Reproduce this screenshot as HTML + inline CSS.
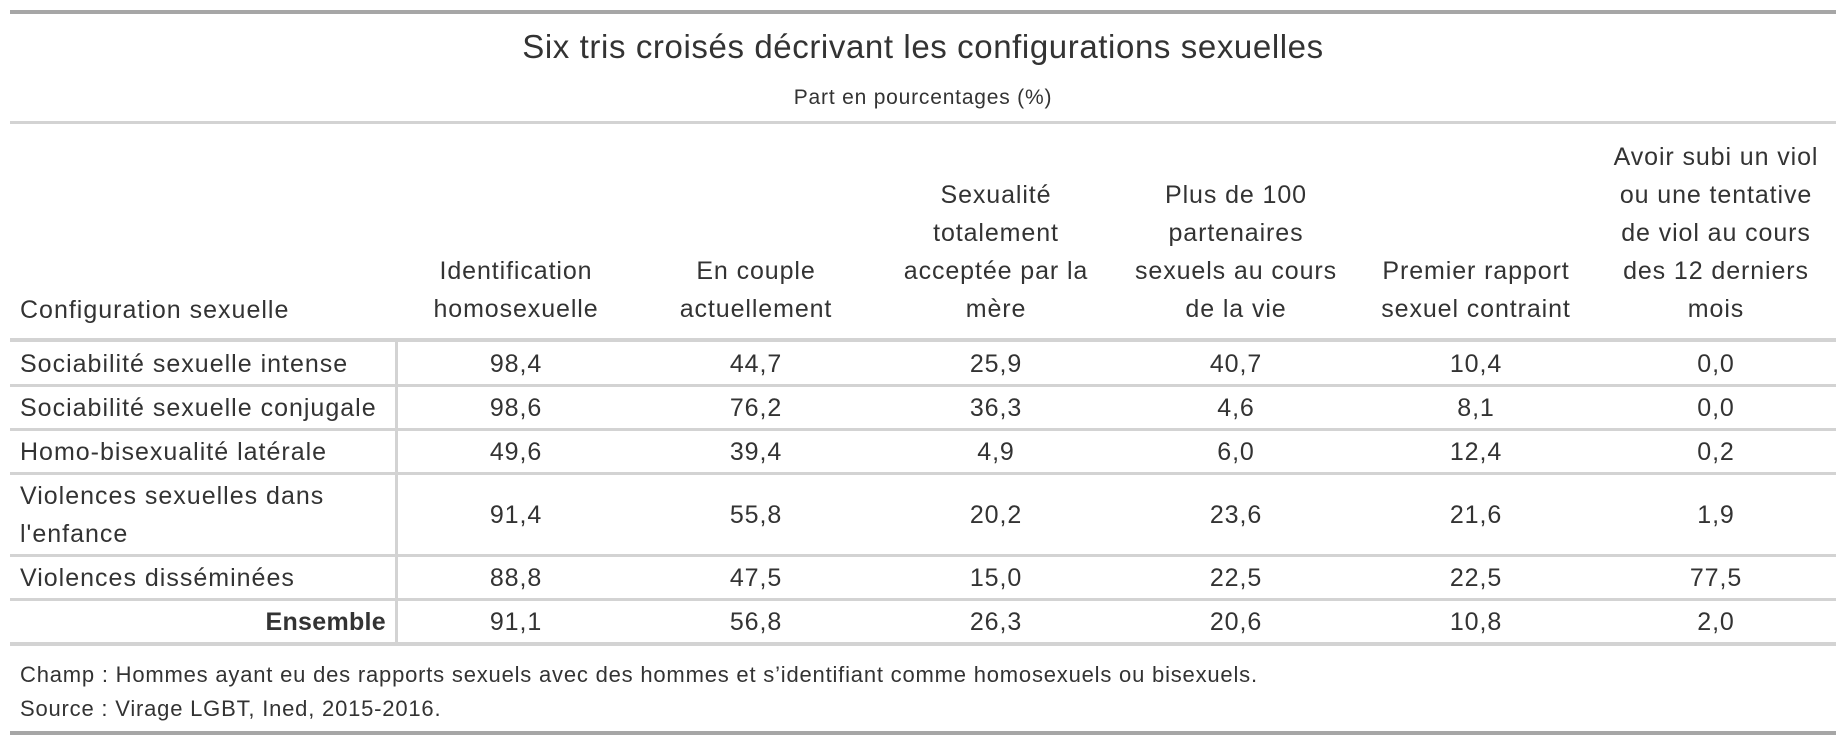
<!DOCTYPE html>
<html><head><meta charset="utf-8">
<style>
body{margin:0;width:1846px;height:742px;background:#fff;font-family:"Liberation Sans",sans-serif;color:#333;position:relative;overflow:hidden}
.ab{position:absolute}
.hl{position:absolute;left:10px;width:1826px;background:#d3d3d3}
.c{position:absolute;text-align:center;width:240px;font-size:25px;line-height:38px;letter-spacing:0.9px}
.r{position:absolute;font-size:25px;line-height:38px;letter-spacing:1px;white-space:nowrap}
</style></head><body>
<div class="hl" style="top:10px;height:4px;background:#a6a6a6"></div>
<div class="ab" style="left:0;width:1846px;top:28px;text-align:center;font-size:33px;line-height:38px;letter-spacing:0.6px">Six tris croisés décrivant les configurations sexuelles</div>
<div class="ab" style="left:0;width:1846px;top:85px;text-align:center;font-size:21px;line-height:26px;letter-spacing:0.8px">Part en pourcentages (%)</div>
<div class="hl" style="top:121px;height:3px"></div>
<div id="hdr"></div>
<div class="hl" style="top:338px;height:4px"></div>
<div id="body"></div>
<div class="ab" style="left:395px;top:342px;width:3px;height:301px;background:#d3d3d3"></div>
<div class="hl" style="top:642px;height:4px"></div>
<div class="ab" style="left:20px;top:662px;font-size:22px;line-height:26px;letter-spacing:0.8px;white-space:nowrap">Champ : Hommes ayant eu des rapports sexuels avec des hommes et s’identifiant comme homosexuels ou bisexuels.</div>
<div class="ab" style="left:20px;top:696px;font-size:22px;line-height:26px;letter-spacing:0.8px">Source : Virage LGBT, Ined, 2015-2016.</div>
<div class="hl" style="top:731px;height:4px;background:#a6a6a6"></div>
<script>
const columns=[["Identification","homosexuelle"],["En couple","actuellement"],["Sexualité","totalement","acceptée par la","mère"],["Plus de 100","partenaires","sexuels au cours","de la vie"],["Premier rapport","sexuel contraint"],["Avoir subi un viol","ou une tentative","de viol au cours","des 12 derniers","mois"]];
const rowLabels=[["Sociabilité sexuelle intense"],["Sociabilité sexuelle conjugale"],["Homo-bisexualité latérale"],["Violences sexuelles dans","l'enfance"],["Violences disséminées"],["Ensemble"]];
const values=[["98,4","44,7","25,9","40,7","10,4","0,0"],["98,6","76,2","36,3","4,6","8,1","0,0"],["49,6","39,4","4,9","6,0","12,4","0,2"],["91,4","55,8","20,2","23,6","21,6","1,9"],["88,8","47,5","15,0","22,5","22,5","77,5"],["91,1","56,8","26,3","20,6","10,8","2,0"]];
const hdr=document.getElementById('hdr');
const lbl=document.createElement('div');lbl.className='r';


lbl.style.left='20px';lbl.style.top='291px';lbl.textContent='Configuration sexuelle';hdr.appendChild(lbl);
columns.forEach((lines,i)=>{const d=document.createElement('div');d.className='c';


d.style.left=(396+i*240)+'px';d.style.top=(329-lines.length*38.3)+'px';d.innerHTML=lines.join('<br>');hdr.appendChild(d);});
const body=document.getElementById('body');
let y=342;
rowLabels.forEach((lines,r)=>{const h=lines.length>1?80:42;
const l=document.createElement('div');l.className='r';


if(r===5){l.style.fontWeight='bold';l.style.right=(1846-386)+'px';l.style.textAlign='right';l.style.letterSpacing='0.3px';}else l.style.left='20px';
l.style.top=(y+h/2-lines.length*19+1)+'px';l.innerHTML=lines.join('<br>');body.appendChild(l);
values[r].forEach((v,i)=>{const c=document.createElement('div');c.className='c';


c.style.left=(396+i*240)+'px';c.style.top=(y+h/2-18)+'px';c.textContent=v;body.appendChild(c);});
y+=h;
if(r<5){const ln=document.createElement('div');ln.className='hl';


ln.style.top=(y)+'px';ln.style.height='3px';body.appendChild(ln);y+=2;}
});
</script>
</body></html>
